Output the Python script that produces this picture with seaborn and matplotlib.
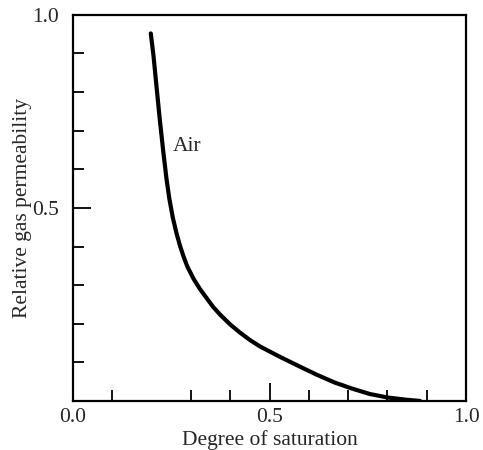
import numpy as np
import pandas as pd
import matplotlib
matplotlib.use("Agg")
import matplotlib.pyplot as plt
import seaborn as sns

# --- Curve (degree of saturation vs relative gas permeability) ---
saturation = [0.198, 0.205, 0.213, 0.221, 0.230, 0.238, 0.245, 0.254, 0.263,
              0.272, 0.281, 0.291, 0.307, 0.323, 0.357, 0.374, 0.400, 0.425,
              0.450, 0.476, 0.527, 0.575, 0.620, 0.665, 0.710, 0.755, 0.800,
              0.849, 0.883]
permeability = [0.952, 0.893, 0.810, 0.728, 0.644, 0.575, 0.525, 0.475, 0.436,
                0.403, 0.375, 0.348, 0.316, 0.290, 0.243, 0.224, 0.198, 0.177,
                0.158, 0.141, 0.114, 0.090, 0.068, 0.048, 0.032, 0.018, 0.009,
                0.003, 0.0]

x_major = [0.0, 0.5, 1.0]
x_minor = [0.1, 0.3, 0.4, 0.6, 0.7, 0.8, 0.9]
y_major = [0.5, 1.0]
y_minor = [0.1, 0.2, 0.3, 0.4, 0.6, 0.7, 0.8, 0.9]

df = pd.DataFrame({"saturation": saturation, "permeability": permeability})

sns.set_style("ticks")
plt.rcParams["font.family"] = ["Liberation Serif", "DejaVu Serif"]

fig = plt.figure(figsize=(4.83, 4.5), dpi=100)
ax = fig.add_axes([0.151, 0.109, 0.814, 0.858])

sns.lineplot(data=df, x="saturation", y="permeability", ax=ax,
             color="black", lw=3, sort=False, estimator=None)

ax.set_xlim(0, 1)
ax.set_ylim(0, 1)
ax.set_xticks(x_major)
ax.set_xticks(x_minor, minor=True)
ax.set_yticks(y_major)
ax.set_yticks(y_minor, minor=True)
ax.set_xticklabels(["0.0", "0.5", "1.0"])
ax.set_yticklabels(["0.5", "1.0"])

ax.tick_params(which="major", direction="in", length=13, width=1.3,
               labelsize=15.5, top=False, right=False, color="black")
ax.tick_params(axis="x", which="major", pad=5)
ax.tick_params(axis="y", which="major", pad=10)
ax.tick_params(which="minor", direction="in", length=8, width=1.3,
               top=False, right=False, color="black")
for s in ax.spines.values():
    s.set_linewidth(1.6)
    s.set_color("black")

ax.set_xlabel("Degree of saturation", fontsize=15.5, labelpad=2)
ax.set_ylabel("Relative gas permeability", fontsize=15.5, labelpad=0)

ax.text(0.254, 0.658, "Air", fontsize=15.5, ha="left", va="center")

fig.savefig("out.png", dpi=100)
